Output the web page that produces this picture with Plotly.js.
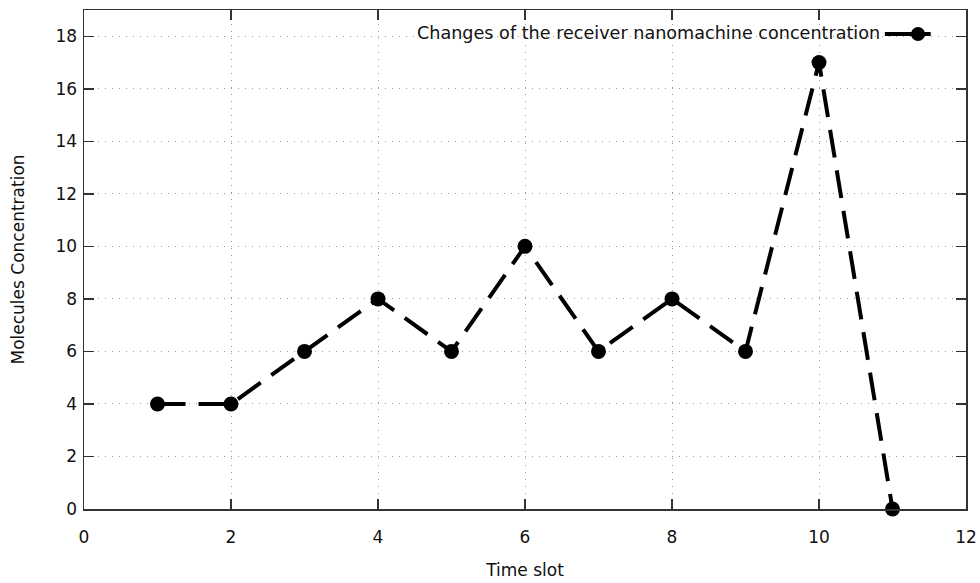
<!DOCTYPE html>
<html>
<head>
<meta charset="utf-8">
<script src="https://cdn.plot.ly/plotly-3.0.1.min.js"></script>
<style>html,body{margin:0;padding:0;background:#fff;}</style>
</head>
<body>
<div id="chart" style="width:980px;height:583px;"></div>
<script>
const timeSlots = [1, 2, 3, 4, 5, 6, 7, 8, 9, 10, 11];
const concentration = [4, 4, 6, 8, 6, 10, 6, 8, 6, 17, 0];
const seriesName = "Changes of the receiver nanomachine concentration";
const xTicks = [0, 2, 4, 6, 8, 10, 12];
const yTicks = [0, 2, 4, 6, 8, 10, 12, 14, 16, 18];

const font = {family: "DejaVu Sans, Verdana, sans-serif", size: 17, color: "#111"};
const legendFont = {family: "DejaVu Sans, Verdana, sans-serif", size: 17.6, color: "#111"};

const trace = {
  x: timeSlots,
  y: concentration,
  type: "scatter",
  mode: "lines+markers",
  name: seriesName,
  cliponaxis: false,
  line: {color: "#000", width: 4, dash: "28px,13px"},
  marker: {color: "#000", size: 15, symbol: "circle"},
  showlegend: false
};

const axisCommon = {
  showline: true, linecolor: "#333", linewidth: 1.5, mirror: "allticks",
  ticks: "inside", ticklen: 10, tickwidth: 1.5, tickcolor: "#333",
  showgrid: true, gridcolor: "#999", griddash: "1px,6px", gridwidth: 1,
  zeroline: false, tickfont: font
};

const layout = {
  width: 980, height: 583,
  margin: {l: 84, r: 14, t: 10, b: 74},
  paper_bgcolor: "#fff", plot_bgcolor: "#fff",
  font: font,
  xaxis: Object.assign({}, axisCommon, {
    range: [0, 12], tickvals: xTicks, ticktext: xTicks.map(String),
    ticklabelstandoff: 12,
    title: {text: "Time slot", font: font, standoff: 18}
  }),
  yaxis: Object.assign({}, axisCommon, {
    range: [0, 19], tickvals: yTicks, ticktext: yTicks.map(String),
    ticklabelstandoff: 2,
    title: {text: "Molecules Concentration", font: font, standoff: 26}
  }),
  annotations: [{
    xref: "paper", yref: "paper", x: 0.9045, y: 0.954,
    xanchor: "right", yanchor: "middle", showarrow: false,
    text: seriesName, font: legendFont
  }],
  shapes: [
    {type: "line", xref: "paper", yref: "paper", x0: 0.908, x1: 0.960, y0: 0.952, y1: 0.952,
     line: {color: "#000", width: 4}},
    {type: "circle", xref: "paper", yref: "paper", xsizemode: "pixel", ysizemode: "pixel",
     xanchor: 0.9456, yanchor: 0.952, x0: -7, x1: 7, y0: -7, y1: 7,
     fillcolor: "#000", line: {color: "#000", width: 0}}
  ]
};

Plotly.newPlot("chart", [trace], layout, {displayModeBar: false, staticPlot: true});
</script>
</body>
</html>
